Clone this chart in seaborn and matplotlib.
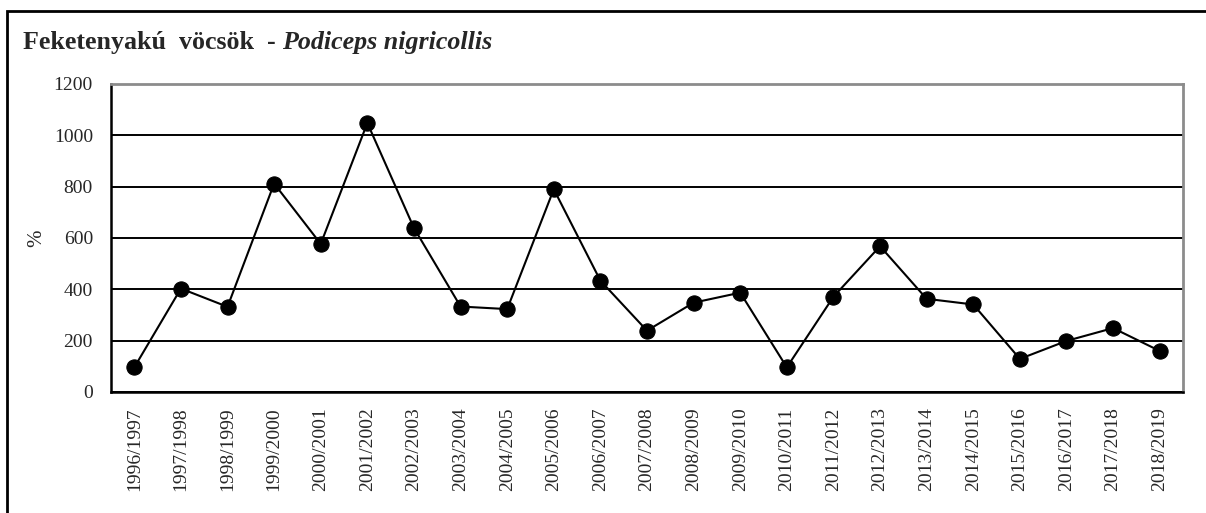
import numpy as np
import matplotlib
matplotlib.use("Agg")
import matplotlib.pyplot as plt
import matplotlib.patches as patches
import seaborn as sns

seasons = ["1996/1997", "1997/1998", "1998/1999", "1999/2000", "2000/2001",
           "2001/2002", "2002/2003", "2003/2004", "2004/2005", "2005/2006",
           "2006/2007", "2007/2008", "2008/2009", "2009/2010", "2010/2011",
           "2011/2012", "2012/2013", "2013/2014", "2014/2015", "2015/2016",
           "2016/2017", "2017/2018", "2018/2019"]
percent = [96, 403, 332, 812, 577, 1048, 639, 333, 323, 790, 434, 239,
           348, 387, 96, 371, 568, 363, 341, 129, 199, 249, 160]
y_ticks = [0, 200, 400, 600, 800, 1000, 1200]

title_common = "Feketenyakú  vöcsök  - "
title_latin = "Podiceps nigricollis"

sns.set_style("white")
plt.rcParams['font.family'] = ['Liberation Serif', 'DejaVu Serif']

W, H = 1206, 513
fig = plt.figure(figsize=(W / 100, H / 100), dpi=100)
ax = fig.add_axes([111 / W, 1 - 392 / H, (1183 - 111) / W, (392 - 84) / H])

x_pos = np.arange(len(seasons))
sns.lineplot(x=x_pos, y=percent, ax=ax, color='black', linewidth=1.5,
             marker='o', markersize=11, markerfacecolor='black',
             markeredgecolor='black', zorder=3)

ax.set_xlim(-0.5, len(seasons) - 0.5)
ax.set_ylim(0, 1200)
ax.set_yticks(y_ticks)
ax.set_yticklabels([str(v) for v in y_ticks], fontsize=14)
ax.set_xticks(x_pos)
ax.set_xticklabels(seasons, rotation=90, fontsize=14)
ax.set_xticks(np.arange(len(seasons) + 1) - 0.5, minor=True)
ax.tick_params(axis='x', which='major', length=0, pad=11)
ax.tick_params(axis='x', which='minor', length=4, width=1.5, color='black', direction='out')
ax.tick_params(axis='y', which='major', length=5, width=1.5, color='black', direction='out', pad=8)

ax.yaxis.grid(True, color='black', linewidth=1.4)
ax.xaxis.grid(False)
ax.set_axisbelow(True)
ax.set_ylabel("%", fontsize=15, labelpad=5)
ax.set_xlabel("")

for side in ['left', 'bottom']:
    ax.spines[side].set_color('black')
    ax.spines[side].set_linewidth(1.8)
for side in ['top', 'right']:
    ax.spines[side].set_color('#8c8c8c')
    ax.spines[side].set_linewidth(2)

# outer frame of the chart
fig.patches.append(patches.Rectangle((7 / W, -0.1), 1.2, 1 - 11 / H + 0.1,
                                     transform=fig.transFigure, fill=False,
                                     edgecolor='black', linewidth=2))

t1 = fig.text(23 / W, 1 - 49 / H, title_common, fontsize=18.7,
              fontweight='bold', va='baseline', ha='left')
fig.canvas.draw()
bb = t1.get_window_extent()
fig.text(bb.x1 / W, 1 - 49 / H, title_latin, fontsize=18.7,
         fontweight='bold', fontstyle='italic', va='baseline', ha='left')

fig.savefig("out.png", dpi=100)
